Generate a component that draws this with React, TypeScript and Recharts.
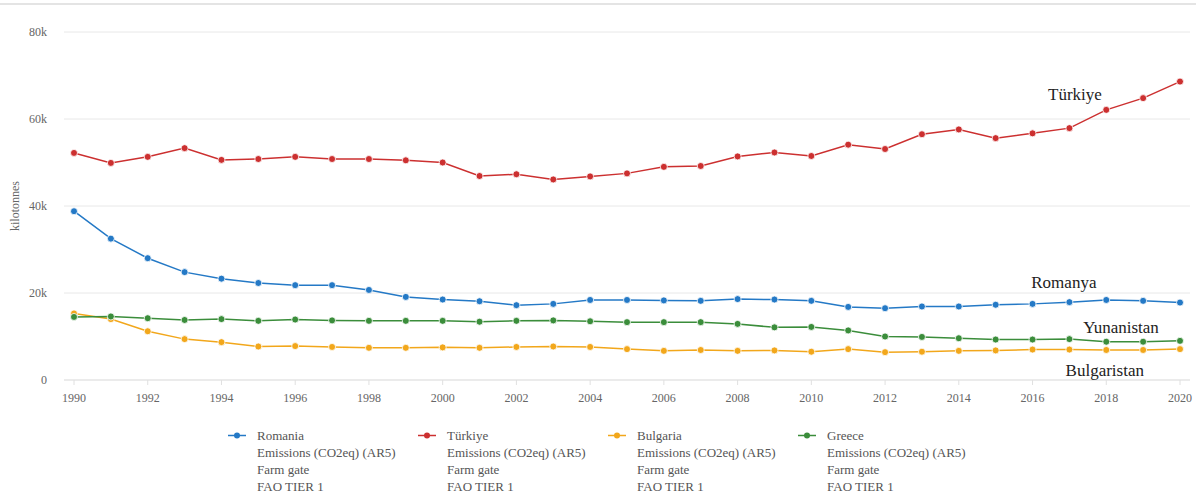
import React from "react";
import {
  LineChart,
  Line,
  XAxis,
  YAxis,
  CartesianGrid,
  Legend,
  ReferenceDot,
} from "recharts";

const years = [
  1990, 1991, 1992, 1993, 1994, 1995, 1996, 1997, 1998, 1999, 2000, 2001, 2002,
  2003, 2004, 2005, 2006, 2007, 2008, 2009, 2010, 2011, 2012, 2013, 2014, 2015,
  2016, 2017, 2018, 2019, 2020,
];

const romania = [
  38800, 32500, 28000, 24800, 23300, 22300, 21800, 21800, 20700, 19100, 18500,
  18100, 17200, 17500, 18400, 18400, 18300, 18200, 18600, 18500, 18200, 16800,
  16500, 16900, 16900, 17300, 17500, 17900, 18400, 18200, 17800,
];

const turkiye = [
  52200, 49900, 51300, 53300, 50600, 50800, 51300, 50800, 50800, 50500, 50000,
  46900, 47300, 46100, 46800, 47500, 49000, 49200, 51400, 52300, 51500, 54100,
  53100, 56500, 57600, 55600, 56700, 57900, 62100, 64800, 68600,
];

const bulgaria = [
  15300, 14000, 11200, 9400, 8700, 7700, 7800, 7600, 7400, 7400, 7500, 7400,
  7600, 7700, 7600, 7100, 6700, 6900, 6700, 6800, 6500, 7100, 6400, 6500, 6700,
  6800, 7000, 7000, 6900, 6900, 7100,
];

const greece = [
  14500, 14600, 14200, 13800, 14000, 13600, 13900, 13700, 13600, 13600, 13600,
  13400, 13600, 13700, 13500, 13300, 13300, 13300, 12900, 12100, 12200, 11400,
  10000, 9900, 9600, 9300, 9300, 9400, 8800, 8800, 9000,
];

const xTicks = [
  1990, 1992, 1994, 1996, 1998, 2000, 2002, 2004, 2006, 2008, 2010, 2012, 2014,
  2016, 2018, 2020,
];
const yTicks = [0, 20000, 40000, 60000, 80000];

const series = [
  { key: "romania", name: "Romania", color: "#2479c6" },
  { key: "turkiye", name: "Türkiye", color: "#cc3030" },
  { key: "bulgaria", name: "Bulgaria", color: "#f2a71b" },
  { key: "greece", name: "Greece", color: "#3b8d3b" },
];

// annotation labels (Turkish country names) at data coordinates
const notes = [
  { text: "Türkiye", year: 2017.15, value: 65700 },
  { text: "Romanya", year: 2016.85, value: 22600 },
  { text: "Yunanistan", year: 2018.4, value: 12300 },
  { text: "Bulgaristan", year: 2017.96, value: 2300 },
];

const data = years.map((year, i) => ({
  year,
  romania: romania[i],
  turkiye: turkiye[i],
  bulgaria: bulgaria[i],
  greece: greece[i],
}));

const font = "'Liberation Serif', 'Times New Roman', serif";

const fmtK = (v: number) => (v === 0 ? "0" : `${v / 1000}k`);

// legend keeps the series order (recharts would sort it by name)
const LegendBox = () => (
  <div
    style={{
      display: "flex",
      paddingLeft: 228,
      paddingTop: 7,
      fontFamily: font,
      fontSize: 13,
      lineHeight: "17px",
      color: "#555",
    }}
  >
    {series.map((s) => (
      <div key={s.key} style={{ display: "flex", width: 190 }}>
        <svg width={29} height={17} style={{ flex: "none" }}>
          <line x1={0} x2={18} y1={8.5} y2={8.5} stroke={s.color} strokeWidth={1.5} />
          <circle cx={9} cy={8.5} r={3} fill={s.color} />
        </svg>
        <div>
          <div>{s.name}</div>
          <div>Emissions (CO2eq) (AR5)</div>
          <div>Farm gate</div>
          <div>FAO TIER 1</div>
        </div>
      </div>
    ))}
  </div>
);

export default function App() {
  return (
    <div
      style={{
        position: "absolute",
        left: 0,
        top: 0,
        width: 1196,
        height: 496,
        background: "#fff",
      }}
    >
      <div
        style={{
          position: "absolute",
          left: 0,
          top: 3,
          width: 1196,
          height: 0,
          borderTop: "2px solid #e4e4e4",
        }}
      />
      <LineChart
        width={1196}
        height={496}
        data={data}
        margin={{ top: 32, right: 6, left: 0, bottom: 0 }}
      >
        <CartesianGrid vertical={false} stroke="#e8e8e8" />
        <XAxis
          dataKey="year"
          type="number"
          domain={[1990, 2020]}
          ticks={xTicks}
          padding={{ left: 10, right: 10 }}
          height={40}
          axisLine={{ stroke: "#e3e3e3" }}
          tickLine={{ stroke: "#e0e0e0" }}
          tickSize={5}
          tickMargin={8}
          tick={{ fill: "#666", fontSize: 12, fontFamily: font }}
        />
        <YAxis
          width={64}
          domain={[0, 80000]}
          ticks={yTicks}
          tickFormatter={fmtK}
          axisLine={false}
          tickLine={false}
          tickSize={0}
          tickMargin={17}
          tick={{ fill: "#666", fontSize: 12, fontFamily: font }}
          label={{
            value: "kilotonnes",
            angle: -90,
            position: "insideLeft",
            offset: 15,
            style: { fill: "#666", fontSize: 12, fontFamily: font, textAnchor: "middle" },
          }}
        />
        <Legend verticalAlign="bottom" height={76} content={<LegendBox />} />
        {series.map((s) => (
          <Line
            key={s.key}
            dataKey={s.key}
            name={s.name}
            type="linear"
            stroke={s.color}
            strokeWidth={1.5}
            dot={{ r: 3.5, fill: s.color, stroke: "#fff", strokeWidth: 0.8 }}
            activeDot={false}
            isAnimationActive={false}
          />
        ))}
        {notes.map((n) => (
          <ReferenceDot
            key={n.text}
            x={n.year}
            y={n.value}
            r={0}
            fill="none"
            stroke="none"
            ifOverflow="visible"
            label={{
              value: n.text,
              position: "center",
              style: { fill: "#222", fontSize: 17, fontFamily: font },
            }}
          />
        ))}
      </LineChart>
    </div>
  );
}
